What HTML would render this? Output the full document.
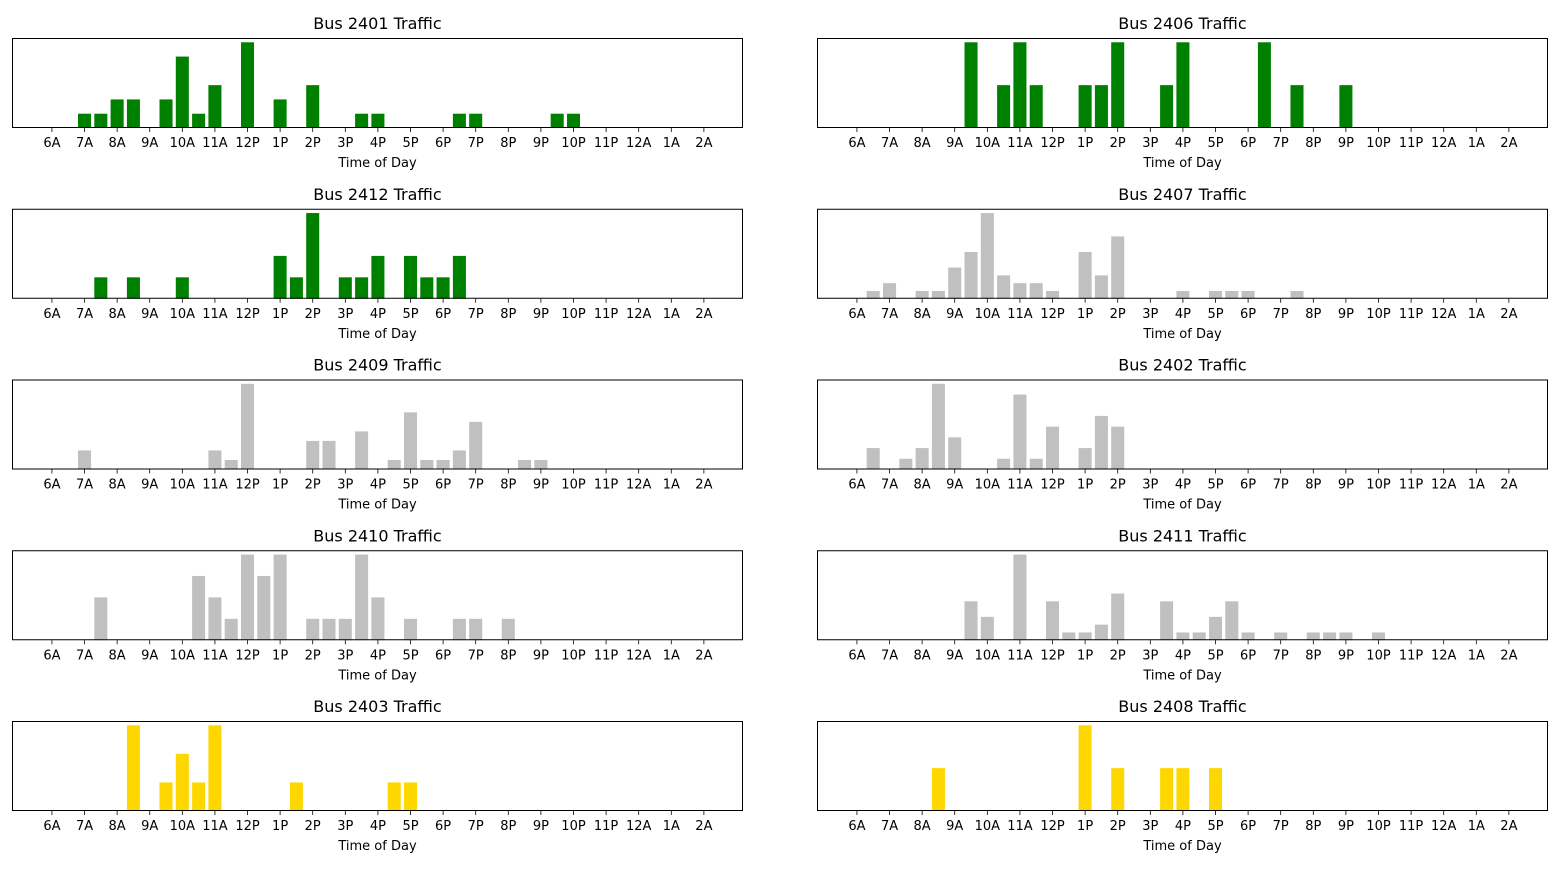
<!DOCTYPE html>
<html><head><meta charset="utf-8">
<style>
body{margin:0;background:#fff;width:1560px;height:869px;overflow:hidden;font-family:"Liberation Sans","DejaVu Sans",sans-serif;}
svg text{font-family:"DejaVu Sans","Liberation Sans",sans-serif;}
</style></head>
<body>
<svg id="fig" width="1560" height="869" xmlns="http://www.w3.org/2000/svg"></svg>
<script>
const hourLabels = ["6A","7A","8A","9A","10A","11A","12P","1P","2P","3P","4P","5P","6P","7P","8P","9P","10P","11P","12A","1A","2A"];
const busNames = ["2401","2406","2412","2407","2409","2402","2410","2411","2403","2408"];
const busColors = ["#008000","#008000","#008000","#c0c0c0","#c0c0c0","#c0c0c0","#c0c0c0","#c0c0c0","#ffd700","#ffd700"];
// slot index = half-hours after 6A
const slots2401 = [2,3,4,5,7,8,9,10,12,14,16,19,20,25,26,31,32];
const counts2401 = [1,1,2,2,2,5,1,3,6,2,3,1,1,1,1,1,1];
const slots2406 = [7,9,10,11,14,15,16,19,20,25,27,30];
const counts2406 = [2,1,2,1,1,1,2,1,2,2,1,1];
const slots2412 = [3,5,8,14,15,16,18,19,20,22,23,24,25];
const counts2412 = [1,1,1,2,1,4,1,1,2,2,1,1,2];
const slots2407 = [1,2,4,5,6,7,8,9,10,11,12,14,15,16,20,22,23,24,27];
const counts2407 = [1,2,1,1,4,6,11,3,2,2,1,6,3,8,1,1,1,1,1];
const slots2409 = [2,10,11,12,16,17,19,21,22,23,24,25,26,29,30];
const counts2409 = [2,2,1,9,3,3,4,1,6,1,1,2,5,1,1];
const slots2402 = [1,3,4,5,6,9,10,11,12,14,15,16];
const counts2402 = [2,1,2,8,3,1,7,1,4,2,5,4];
const slots2410 = [3,9,10,11,12,13,14,16,17,18,19,20,22,25,26,28];
const counts2410 = [2,3,2,1,4,3,4,1,1,1,4,2,1,1,1,1];
const slots2411 = [7,8,10,12,13,14,15,16,19,20,21,22,23,24,26,28,29,30,32];
const counts2411 = [5,3,11,5,1,1,2,6,5,1,1,3,5,1,1,1,1,1,1];
const slots2403 = [5,7,8,9,10,15,21,22];
const counts2403 = [3,1,2,1,3,1,1,1];
const slots2408 = [5,14,16,19,20,22];
const counts2408 = [1,2,1,1,1,1];
const allSlots = [slots2401,slots2406,slots2412,slots2407,slots2409,slots2402,slots2410,slots2411,slots2403,slots2408];
const allCounts = [counts2401,counts2406,counts2412,counts2407,counts2409,counts2402,counts2410,counts2411,counts2403,counts2408];

const NS = "http://www.w3.org/2000/svg";
const fig = document.getElementById('fig');
function mk(tag, attrs, parent){const e=document.createElementNS(NS,tag);for(const k in attrs)e.setAttribute(k,attrs[k]);parent.appendChild(e);return e;}

const axW = 731, axH = 90;
const xMin = -2.45, xMax = 42.4;
busNames.forEach((name, i) => {
  const col = i % 2, row = Math.floor(i / 2);
  const left = col === 0 ? 12 : 817;
  const top = 38 + row * 170.75;
  const g = mk('g', {}, fig);
  
  
  const xs = v => left + (v - xMin) / (xMax - xMin) * axW;
  const counts = allCounts[i], slots = allSlots[i];
  const yMax = Math.max(...counts) * 1.05;
  const ys = v => top + axH - v / yMax * axH;
  const bw = 0.8 * axW / (xMax - xMin);
  slots.forEach((s, j) => {
    const r = mk('rect', {x: xs(s) - bw/2, y: ys(counts[j]), width: bw, height: top + axH - ys(counts[j]), fill: busColors[i]}, g);
    
    
  });
  const frame = mk('rect', {x: left + 0.5, y: top + 0.5, width: axW - 1, height: axH - 1, fill: 'none', stroke: '#000', 'stroke-width': 1}, g);
  
  
  hourLabels.forEach((lab, h) => {
    const x = xs(h * 2);
    mk('line', {x1: x, x2: x, y1: top + axH, y2: top + axH + 4, stroke: '#000', 'stroke-width': 0.8}, g);
    const t = mk('text', {x: x, y: top + axH + 19, 'font-size': 13, 'text-anchor': 'middle', fill: '#000'}, g);
    t.textContent = lab;
    
    
  });
  const xl = mk('text', {x: left + axW/2, y: top + axH + 39, 'font-size': 13, 'text-anchor': 'middle', fill: '#000'}, g);
  xl.textContent = 'Time of Day';
  
  
  const tt = mk('text', {x: left + axW/2, y: top - 9, 'font-size': 16, 'text-anchor': 'middle', fill: '#000'}, g);
  tt.textContent = 'Bus ' + name + ' Traffic';
  
  
});
</script>
</body></html>
